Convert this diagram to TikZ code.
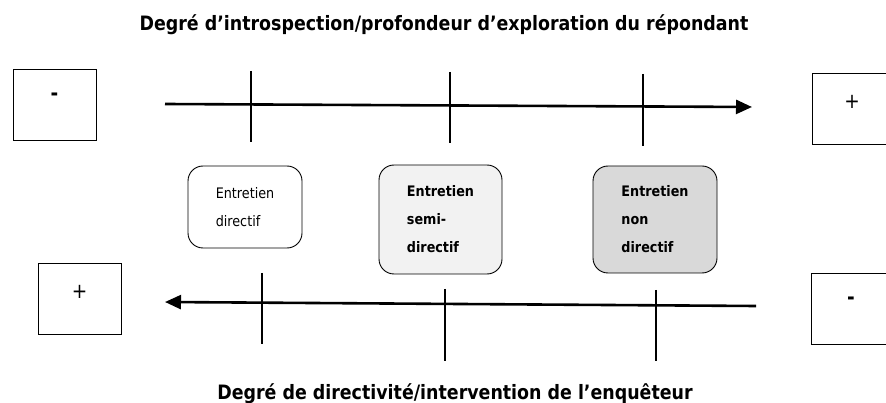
\documentclass[tikz,border=0pt]{standalone}
\usepackage{fontspec}
\setmainfont{DejaVu Sans}[FakeStretch=0.88]
\usetikzlibrary{arrows.meta}
\tikzset{>=latex}
\tikzset{signbox/.style={draw,minimum width=83pt,minimum height=71pt,inner sep=0pt,line width=0.9pt}}
\tikzset{signtxt/.style={inner sep=0pt,font=\fontsize{21}{24}\selectfont}}
\tikzset{entbox/.style={draw,rounded corners=15pt,align=left,inner sep=0pt,line width=0.9pt,font=\fontsize{14.5}{28}\selectfont}}
\tikzset{entboxb/.style={entbox,font=\bfseries\fontsize{14.5}{28}\selectfont}}
\tikzset{axe/.style={line width=2.6pt,-{Triangle[length=16pt,width=14pt]}}}
\tikzset{trait/.style={line width=1.2pt}}
\tikzset{titre/.style={anchor=base,inner sep=0pt,font=\bfseries\fontsize{19.8}{22}\selectfont}}

\begin{document}
\begin{tikzpicture}[x=1pt,y=-1pt]
                    \useasboundingbox (0,0) rectangle (886,403);
                    \clip (0,0) rectangle (886,403);

                    \node[titre] (tH) at (444,31) {Degré d’introspection/profondeur d’exploration du répondant};
                    \node[titre] (tB) at (455,399) {Degré de directivité/intervention de l’enquêteur};

                    \node[signbox] (mH) at (54.5,104.5) {};
                    \node[signtxt] at (54.5,97) {\bfseries -};
                    \node[signbox] (pH) at (853.5,108.5) {};
                    \node[signtxt] at (852,102) {+};
                    \node[signbox] (pB) at (79.5,298.5) {};
                    \node[signtxt] at (79.5,292) {+};
                    \node[signbox] (mB) at (852.5,308.5) {};
                    \node[signtxt] at (851,301) {\bfseries -};

                    \coordinate (hA) at (165,104);
                    \coordinate (hB) at (752,107);
                    \draw[axe] (hA) -- (hB);
                    \draw[trait] (251,71) -- (251,142);
                    \draw[trait] (450,72) -- (450,143);
                    \draw[trait] (643,74) -- (643,146);

                    \coordinate (bA) at (756,306);
                    \coordinate (bB) at (165,302);
                    \draw[axe] (bA) -- (bB);
                    \draw[trait] (262,273) -- (262,344);
                    \draw[trait] (445,289) -- (445,361);
                    \draw[trait] (656,290) -- (656,361);

                    \node[entbox,minimum width=114pt,minimum height=82pt] (dir) at (245,207) {Entretien\\directif};
                    \node[entboxb,fill={rgb,255:red,242;green,242;blue,242},minimum width=123pt,minimum height=109pt] (semi) at (440.5,219.5) {Entretien\\semi-\\directif};
                    \node[entboxb,fill={rgb,255:red,217;green,217;blue,217},minimum width=124pt,minimum height=107pt] (non) at (655,219.5) {Entretien\\non\\directif};

                \end{tikzpicture}
\end{document}
